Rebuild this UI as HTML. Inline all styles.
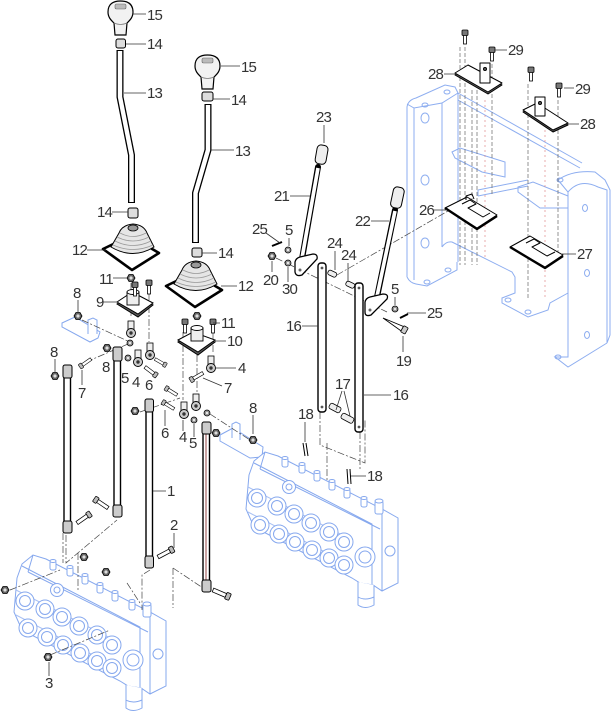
<!DOCTYPE html>
<html><head><meta charset="utf-8"><style>
html,body{margin:0;padding:0;background:#fff;}
svg{display:block}
text{font-family:"Liberation Sans",sans-serif;font-size:15px;fill:#333;letter-spacing:-0.8px}
</style></head><body>
<svg width="611" height="717" viewBox="0 0 611 717" xmlns="http://www.w3.org/2000/svg">
<defs>
 <g id="knob">
  <path d="M108,12 C108,4 113,1 120.5,1 C128,1 133,4 133,12 C133,18 129,21 127,23 L126,35 L115,35 L114,23 C112,21 108,18 108,12 Z" fill="#f2f2f2" stroke="#000" stroke-width="1.2"/>
  <path d="M114,23 Q120.5,26 127,23" fill="none" stroke="#777" stroke-width="0.8"/>
  <rect x="115" y="4" width="11" height="5" rx="1.5" fill="#bbb" stroke="#666" stroke-width="0.6"/>
 </g>
 <g id="boot">
  <polygon points="103,249 130,236 159,253 132,270" fill="#fff" stroke="#000" stroke-width="2.6" stroke-linejoin="round"/>
  <path d="M119,233 Q122,225 133,224 Q144,225 147,233 L154,247 Q133,260 111,247 Z" fill="#e6e6e6" stroke="#000" stroke-width="1"/>
  <path d="M117,237 Q133,245 149,237 M115,241 Q133,250 151,241 M113,245 Q133,254 153,245 M120,233 Q133,240 146,233" fill="none" stroke="#999" stroke-width="0.8"/>
  <ellipse cx="133" cy="228" rx="5" ry="3" fill="#999" stroke="#000" stroke-width="0.8"/>
 </g>
 <g id="nut">
  <polygon points="4,0 2,3.5 -2,3.5 -4,0 -2,-3.5 2,-3.5" fill="#666" stroke="#000" stroke-width="0.8"/>
  <circle r="1.6" fill="#ddd"/>
 </g>
 <g id="washer"><circle r="3" fill="#999" stroke="#000" stroke-width="0.8"/><circle r="1" fill="#fff"/></g>
 <g id="vbolt">
  <rect x="-1.5" y="1" width="3" height="9" fill="#fff" stroke="#000" stroke-width="0.8"/>
  <rect x="-3" y="-4" width="6" height="5.5" rx="1" fill="#777" stroke="#000" stroke-width="0.8"/>
 </g>
 <g id="dbolt">
  <rect x="0" y="-2" width="14" height="4" fill="#fff" stroke="#000" stroke-width="0.8"/>
  <rect x="14" y="-3.5" width="4.5" height="7" rx="1" fill="#bbb" stroke="#000" stroke-width="0.8"/>
 </g>
 <g id="joint">
  <rect x="-3" y="-12" width="6" height="10" fill="#eee" stroke="#000" stroke-width="0.8"/>
  <circle r="4.5" fill="#ccc" stroke="#000" stroke-width="0.9"/>
  <circle r="1.7" fill="#333"/>
 </g>
 <g id="valve" fill="#fff" stroke="#86a8ee" stroke-width="1">
  <path d="M17,578 L22,564 L33,555 L46,559 L150,612 L166,621 L166,686 L150,694 L141,688 L128,686 L120,681 L22,630 L14,612 Z"/>
  <path d="M22,566 L140,627 L140,688 M150,612 L150,694 M33,555 L28,572 M28,572 L148,632" fill="none"/>
  <path d="M16,590 L120,643 M16,615 L118,668" fill="none" stroke="#a8c0f4"/>
  <g>
   <circle cx="25" cy="601" r="9"/><circle cx="25" cy="601" r="5.5"/>
   <circle cx="45" cy="609" r="9"/><circle cx="45" cy="609" r="5.5"/>
   <circle cx="62" cy="617" r="9"/><circle cx="62" cy="617" r="5.5"/>
   <circle cx="79" cy="626" r="9"/><circle cx="79" cy="626" r="5.5"/>
   <circle cx="97" cy="635" r="9"/><circle cx="97" cy="635" r="5.5"/>
   <circle cx="112" cy="645" r="9"/><circle cx="112" cy="645" r="5.5"/>
   <circle cx="28" cy="628" r="9"/><circle cx="28" cy="628" r="5.5"/>
   <circle cx="47" cy="637" r="9"/><circle cx="47" cy="637" r="5.5"/>
   <circle cx="63" cy="645" r="9"/><circle cx="63" cy="645" r="5.5"/>
   <circle cx="80" cy="653" r="9"/><circle cx="80" cy="653" r="5.5"/>
   <circle cx="97" cy="661" r="9"/><circle cx="97" cy="661" r="5.5"/>
   <circle cx="112" cy="668" r="9"/><circle cx="112" cy="668" r="5.5"/>
   <circle cx="133" cy="660" r="10"/><circle cx="133" cy="660" r="6"/>
   <circle cx="158" cy="654" r="5"/>
   <circle cx="57" cy="590" r="6.5"/><circle cx="57" cy="590" r="3"/>
  </g>
  <g>
   <rect x="50" y="561" width="6" height="9" rx="2"/><ellipse cx="53" cy="561" rx="3" ry="1.5"/>
   <rect x="67" y="567" width="6" height="9" rx="2"/><ellipse cx="70" cy="567" rx="3" ry="1.5"/>
   <rect x="82" y="575" width="6" height="9" rx="2"/><ellipse cx="85" cy="575" rx="3" ry="1.5"/>
   <rect x="97" y="584" width="6" height="9" rx="2"/><ellipse cx="100" cy="584" rx="3" ry="1.5"/>
   <rect x="112" y="592" width="6" height="9" rx="2"/><ellipse cx="115" cy="592" rx="3" ry="1.5"/>
   <rect x="129" y="601" width="6" height="9" rx="2"/><ellipse cx="132" cy="601" rx="3" ry="1.5"/>
   <rect x="143" y="604" width="8" height="13" rx="2"/><ellipse cx="147" cy="604" rx="4" ry="2"/>
  </g>
  <path d="M126,685 L126,708 Q133,713 142,708 L142,688"/>
  <path d="M126,700 Q133,704 142,700" fill="none"/>
 </g>
</defs>

<!-- ===== FRAME (blue) ===== -->
<g fill="none" stroke="#8eaef0" stroke-width="1">
 <path d="M407,277 L407,107 Q408,100 416,98 L445,85 L455,87 L458,93 L458,262"/>
 <path d="M442,103 L442,247 M414,108 L414,280"/>
 <path d="M407,104 L414,108 L442,103 L458,93"/>
 <path d="M407,277 Q410,283 416,284 L427,286 L457,270 L457,262"/>
 <path d="M442,247 Q446,241 452,242 L512,272 L515,277 L515,293 L502,298 L502,303 L528,317 L548,310 L550,303 L568,293"/>
 <path d="M458,93 L582,163 M458,100 L580,168"/>
 <path d="M558,180 L568,192 L568,357 L555,357 L568,367 L607,343"/>
 <path d="M558,180 Q572,170 595,172 L605,180 L610,190 L610,335 L607,343"/>
 <path d="M568,192 Q580,178 598,187 L607,190 L607,343"/>
 <path d="M452,152 L460,148 L505,162 L505,177 L482,172 L455,158 Z"/>
 <path d="M478,190 L528,180 M478,196 L528,186 M478,190 L478,196"/>
 <path d="M518,187 L533,182 L568,196 L568,208 L540,208 L518,192 Z"/>
 <ellipse cx="425" cy="118" rx="4" ry="5"/><ellipse cx="425" cy="180" rx="4" ry="5"/><ellipse cx="425" cy="243" rx="4" ry="5"/>
 <ellipse cx="447" cy="92" rx="3" ry="2"/><ellipse cx="425" cy="105" rx="3" ry="2"/>
 <ellipse cx="585" cy="208" rx="2.5" ry="3.5"/><ellipse cx="587" cy="273" rx="2.5" ry="3.5"/><ellipse cx="587" cy="335" rx="2.5" ry="3.5"/>
 <ellipse cx="508" cy="300" rx="3" ry="2"/><ellipse cx="427" cy="282" rx="3" ry="2"/><ellipse cx="448" cy="270" rx="3" ry="2"/>
 <ellipse cx="528" cy="312" rx="3" ry="2"/><ellipse cx="558" cy="357" rx="3" ry="2"/><ellipse cx="560" cy="180" rx="3" ry="2"/>
</g>
<g fill="none" stroke="#666" stroke-width="0.7" stroke-dasharray="4 2">
 <path d="M460,47 L460,265 M465,47 L465,265 M472,90 L472,265 M477,90 L477,265 M492,64 L492,195 M528,84 L528,300 M558,100 L558,260"/>
</g>
<g fill="none" stroke="#e08a8a" stroke-width="0.7" stroke-dasharray="2 3">
 <path d="M545,125 L545,300 M485,100 L485,260"/>
</g>

<!-- blue brackets -->
<g fill="#fff" stroke="#86a8ee" stroke-width="1">
 <path d="M62,323 L75,317 L100,332 L98,338 L90,342 L62,327 Z"/>
 <path d="M88,334 L88,320 L93,318 L97,320 L97,334"/>
 <path d="M220,435 L233,428 L263,447 L262,457 L250,458 L220,441 Z"/>
 <path d="M232,438 L232,424 L236,422 L240,424 L240,440"/>
</g>

<!-- ===== VALVES ===== -->
<use href="#valve"/>
<use href="#valve" transform="translate(232,-103)"/>

<!-- ===== dashed assembly lines ===== -->
<g fill="none" stroke="#444" stroke-width="0.7" stroke-dasharray="7 2 2 2">
 <path d="M131,283 L131,318 M149,293 L149,342 M82,320 L132,343 M86,362 L128,344"/>
 <path d="M183,332 L183,400 M197,342 L197,393 M213,332 L213,352 M210,414 L250,440 M140,412 L180,398"/>
 <path d="M276,258 L387,312 M337,275 L467,200"/>
 <path d="M66,535 L66,563 L117,520 M63,533 L63,563 M78,553 L78,590 M10,590 L60,570"/>
 <path d="M150,570 L142,575 L142,610 M127,583 L140,603 M173,568 L173,608 M173,568 L206,590"/>
 <path d="M320,412 L320,445 L365,463 L365,420 M327,443 L327,480 M360,432 L360,470"/>
 <path d="M50,655 L110,630"/>
</g>

<!-- ===== LEFT LEVER ===== -->
<use href="#knob"/>
<rect x="116" y="39" width="9.5" height="9" rx="2" fill="#ddd" stroke="#000" stroke-width="1"/>
<path d="M120,50 L120,97 L131.5,155 L131.5,203" fill="none" stroke="#000" stroke-width="7" stroke-linejoin="round"/>
<path d="M120,51 L120,97 L131.5,155 L131.5,202" fill="none" stroke="#fff" stroke-width="4.4" stroke-linejoin="round"/>
<rect x="128" y="208" width="10" height="10" rx="2" fill="#ddd" stroke="#000" stroke-width="1"/>
<use href="#boot"/>

<!-- ===== RIGHT LEVER ===== -->
<use href="#knob" transform="translate(87,54)"/>
<rect x="202" y="92" width="11" height="9" rx="2" fill="#ddd" stroke="#000" stroke-width="1"/>
<path d="M208,104 L208,150 L195.5,193 L195.5,243" fill="none" stroke="#000" stroke-width="7" stroke-linejoin="round"/>
<path d="M208,105 L208,150 L195.5,193 L195.5,242" fill="none" stroke="#fff" stroke-width="4.4" stroke-linejoin="round"/>
<rect x="192" y="248" width="10" height="9" rx="2" fill="#ddd" stroke="#000" stroke-width="1"/>
<use href="#boot" transform="translate(63,37)"/>

<!-- ===== BRACKET 9 cluster ===== -->
<use href="#vbolt" x="149" y="284"/>
<polygon points="117,304 132,294 153,305 138,317" fill="#555" stroke="#000" stroke-width="1"/>
<polygon points="117,302 132,292 153,303 138,314" fill="#fff" stroke="#000" stroke-width="1"/>
<rect x="127" y="292" width="12" height="13" fill="#eee" stroke="#000" stroke-width="0.9"/>
<ellipse cx="133" cy="292" rx="6" ry="2.5" fill="#fff" stroke="#000" stroke-width="0.9"/>
<use href="#vbolt" x="135" y="286"/>
<use href="#nut" x="131" y="278"/>
<use href="#joint" x="131" y="333"/>
<use href="#joint" x="138" y="362"/>
<use href="#joint" x="150" y="355"/>
<use href="#washer" x="130" y="343"/>
<use href="#washer" x="128" y="358"/>
<use href="#dbolt" transform="translate(145,367) rotate(37) scale(0.8)"/>
<use href="#dbolt" transform="translate(155,359) rotate(30) scale(0.7)"/>
<use href="#dbolt" transform="translate(91,359) rotate(145) scale(0.75)"/>
<use href="#nut" x="107" y="348"/>
<use href="#nut" x="78" y="316"/>
<use href="#nut" x="55" y="376"/>

<!-- ===== BRACKET 10 cluster ===== -->
<use href="#vbolt" x="185" y="323"/>
<use href="#vbolt" x="213" y="323"/>
<polygon points="178,342 193,334 215,342 198,355" fill="#555" stroke="#000" stroke-width="1"/>
<polygon points="178,340 193,332 215,340 198,352" fill="#fff" stroke="#000" stroke-width="1"/>
<rect x="191" y="328" width="12" height="13" fill="#eee" stroke="#000" stroke-width="0.9"/>
<ellipse cx="197" cy="328" rx="6" ry="2.5" fill="#fff" stroke="#000" stroke-width="0.9"/>
<use href="#nut" x="197" y="316"/>
<use href="#joint" x="211" y="368"/>
<use href="#joint" x="196" y="406"/>
<use href="#joint" x="184" y="414"/>
<use href="#washer" x="194" y="420"/>
<use href="#washer" x="207" y="413"/>
<use href="#dbolt" transform="translate(203,373) rotate(150) scale(0.8)"/>
<use href="#dbolt" transform="translate(177,395) rotate(212) scale(0.75)"/>
<use href="#dbolt" transform="translate(174,409) rotate(212) scale(0.75)"/>
<use href="#nut" x="135" y="411"/>
<use href="#nut" x="216" y="433"/>
<use href="#nut" x="253" y="440"/>

<!-- ===== RODS ===== -->
<g fill="#fff" stroke="#000" stroke-width="1.4">
 <rect x="64" y="366" width="6.5" height="166"/>
 <rect x="114" y="349" width="6.5" height="166"/>
 <rect x="146" y="401" width="6.5" height="166"/>
 <rect x="203" y="424" width="6.5" height="166"/>
</g>
<path d="M206,432 L206,582" stroke="#7a1a1a" stroke-width="0.8"/>
<g fill="#ccc" stroke="#000" stroke-width="1">
 <rect x="63" y="365" width="9" height="13" rx="2"/><rect x="63" y="521" width="9" height="12" rx="2"/>
 <rect x="113" y="347" width="9" height="14" rx="2"/><rect x="113" y="505" width="9" height="12" rx="2"/>
 <rect x="145" y="399" width="8.5" height="13" rx="2"/><rect x="145" y="556" width="8.5" height="12" rx="2"/>
 <rect x="202" y="422" width="9" height="12" rx="2"/><rect x="202" y="580" width="9" height="12" rx="2"/>
</g>
<use href="#dbolt" transform="translate(108,508) rotate(214) scale(0.9)"/>
<use href="#dbolt" transform="translate(77,523) rotate(-35) scale(0.9)"/>
<use href="#dbolt" transform="translate(158,557) rotate(-28) scale(0.95)"/>
<use href="#dbolt" transform="translate(213,590) rotate(23)"/>
<use href="#nut" x="84" y="557"/>
<use href="#nut" x="106" y="572"/>
<use href="#nut" x="5" y="590"/>
<use href="#nut" x="48" y="657"/>

<!-- ===== LEVERS 21 / 22 ===== -->
<path d="M318,167 L302,259" stroke="#000" stroke-width="6" stroke-linecap="round"/>
<path d="M318,168 L302,258" stroke="#fff" stroke-width="3.6"/>
<rect x="316" y="145" width="11" height="19" rx="4" fill="#eee" stroke="#000" stroke-width="1" transform="rotate(10 321 155)"/>
<path d="M295,262 Q296,258 300,257 L313,254 Q318,254 317,259 L302,275 Q296,277 295,272 Z" fill="#fff" stroke="#000" stroke-width="1.3"/>
<circle cx="300" cy="270" r="1.5" fill="#666"/>
<path d="M395,210 L376,302" stroke="#000" stroke-width="6" stroke-linecap="round"/>
<path d="M395,211 L376,301" stroke="#fff" stroke-width="3.6"/>
<rect x="392" y="187" width="11" height="21" rx="4" fill="#eee" stroke="#000" stroke-width="1" transform="rotate(12 397 197)"/>
<path d="M365,302 Q366,298 370,297 L383,294 Q389,294 387,299 L371,315 Q365,317 365,312 Z" fill="#fff" stroke="#000" stroke-width="1.3"/>
<circle cx="370" cy="310" r="1.5" fill="#666"/>

<!-- rods 16 -->
<g fill="#fff" stroke="#000" stroke-width="1.4">
 <rect x="318" y="263" width="8" height="149" rx="3"/>
 <rect x="355" y="283" width="8" height="149" rx="3"/>
</g>
<circle cx="322" cy="268" r="1.4" fill="#555"/><circle cx="322" cy="407" r="1.4" fill="#555"/>
<circle cx="359" cy="288" r="1.4" fill="#555"/><circle cx="359" cy="427" r="1.4" fill="#555"/>

<!-- small parts around levers -->
<use href="#nut" x="272" y="256"/>
<use href="#washer" x="288" y="250"/>
<use href="#washer" x="288" y="263"/>
<path d="M272,246 L282,242" stroke="#000" stroke-width="2"/>
<rect x="328" y="271" width="9" height="5" rx="2" fill="#eee" stroke="#000" stroke-width="0.8" transform="rotate(25 332 273)"/>
<rect x="346" y="282" width="9" height="5" rx="2" fill="#eee" stroke="#000" stroke-width="0.8" transform="rotate(25 350 284)"/>
<use href="#washer" x="395" y="309"/>
<path d="M400,318 L408,314" stroke="#000" stroke-width="2"/>
<g transform="translate(383,318) rotate(29)">
 <path d="M0,0 L22,-2.5 L22,2.5 Z" fill="#fff" stroke="#000" stroke-width="0.8"/>
 <rect x="22" y="-3.5" width="5" height="7" rx="1" fill="#ccc" stroke="#000" stroke-width="0.8"/>
</g>
<rect x="329" y="405" width="12" height="6" rx="2" fill="#eee" stroke="#000" stroke-width="0.8" transform="rotate(28 335 408)"/>
<rect x="341" y="415" width="13" height="6" rx="2" fill="#eee" stroke="#000" stroke-width="0.8" transform="rotate(28 347 418)"/>
<path d="M303,443 L305,456 M306,443 L308,456" stroke="#000" stroke-width="1"/>
<path d="M347,469 L348,484 M350,469 L351,484" stroke="#000" stroke-width="1"/>

<!-- ===== FRAME PLATES 26/27/28, bolts 29 ===== -->
<g stroke="#000" stroke-width="1" fill="#fff" stroke-linejoin="round">
 <polygon points="455,75 468,67 502,85 488,94" fill="#555"/>
 <polygon points="455,73 468,65 502,83 488,92"/>
 <rect x="480" y="63" width="10" height="20"/>
 <circle cx="485" cy="69" r="1.5" fill="#666"/>
 <polygon points="523,112 537,105 568,125 553,132" fill="#555"/>
 <polygon points="523,110 537,103 568,123 553,130"/>
 <rect x="535" y="97" width="10" height="19"/>
 <circle cx="540" cy="103" r="1.5" fill="#666"/>
 <path d="M445,208 L467,197 L497,215 L477,228 Z"/>
 <path d="M445,208 L477,229 L497,216" fill="none" stroke-width="2.4"/>
 <path d="M462,204 L470,200 L476,204 L468,208 L483,217 L490,213" fill="none"/>
 <path d="M466,200 L466,196 L472,194 L474,199" fill="none"/>
 <path d="M510,247 L530,236 L563,255 L545,267 Z"/>
 <path d="M510,247 L545,268 L563,256" fill="none" stroke-width="2.4"/>
 <path d="M526,243 L534,239 L540,243 L532,247 L547,256 L555,252" fill="none"/>
</g>
<use href="#vbolt" x="465" y="34"/>
<use href="#vbolt" x="492" y="51"/>
<use href="#vbolt" x="531" y="71"/>
<use href="#vbolt" x="559" y="87"/>

<!-- ===== LEADER LINES ===== -->
<g stroke="#333" stroke-width="0.8" fill="none">
 <path d="M132,14 L146,14 M126,44 L146,44 M124,93 L146,93 M112,212 L128,212 M87,250 L106,250"/>
 <path d="M221,66 L240,66 M213,99 L230,99 M211,150 L234,150 M202,253 L217,253 M221,286 L237,286"/>
 <path d="M113,278 L127,278 M78,300 L78,312 M103,302 L118,302 M213,323 L220,323 M215,341 L226,341"/>
 <path d="M216,368 L236,368 M203,378 L222,386 M253,415 L253,434 M55,359 L55,372 M82,370 L82,385"/>
 <path d="M165,410 L165,426 M183,420 L183,431 M194,424 L194,437 M153,491 L166,491 M174,533 L174,548 M49,662 L49,676"/>
 <path d="M290,196 L310,196 M324,125 L324,143 M266,233 L280,243 M289,238 L289,246 M272,261 L272,272 M288,267 L288,282"/>
 <path d="M335,251 L335,270 M348,263 L348,282 M371,221 L389,221 M395,297 L395,305 M407,313 L426,313 M403,336 L403,352"/>
 <path d="M302,326 L318,326 M364,395 L391,395 M342,391 L336,410 M344,391 L350,416 M305,422 L305,442 M351,476 L366,476"/>
 <path d="M434,210 L447,210 M562,254 L576,254 M444,74 L456,74 M567,124 L579,124 M495,50 L507,50 M564,88 L574,88"/>
</g>

<!-- ===== LABELS ===== -->
<g>
 <text x="147" y="20">15</text>
 <text x="147" y="49">14</text>
 <text x="147" y="98">13</text>
 <text x="97" y="217">14</text>
 <text x="72" y="255">12</text>
 <text x="241" y="72">15</text>
 <text x="231" y="105">14</text>
 <text x="235" y="156">13</text>
 <text x="218" y="258">14</text>
 <text x="238" y="291">12</text>
 <text x="99" y="284">11</text>
 <text x="73" y="298">8</text>
 <text x="96" y="307">9</text>
 <text x="221" y="328">11</text>
 <text x="227" y="346">10</text>
 <text x="238" y="373">4</text>
 <text x="224" y="393">7</text>
 <text x="249" y="413">8</text>
 <text x="50" y="357">8</text>
 <text x="102" y="372">8</text>
 <text x="78" y="398">7</text>
 <text x="121" y="383">5</text>
 <text x="132" y="387">4</text>
 <text x="145" y="390">6</text>
 <text x="161" y="438">6</text>
 <text x="179" y="442">4</text>
 <text x="189" y="448">5</text>
 <text x="167" y="496">1</text>
 <text x="170" y="530">2</text>
 <text x="45" y="688">3</text>
 <text x="274" y="201">21</text>
 <text x="316" y="122">23</text>
 <text x="252" y="234">25</text>
 <text x="285" y="235">5</text>
 <text x="263" y="285">20</text>
 <text x="282" y="294">30</text>
 <text x="327" y="248">24</text>
 <text x="341" y="260">24</text>
 <text x="355" y="226">22</text>
 <text x="391" y="294">5</text>
 <text x="427" y="318">25</text>
 <text x="396" y="366">19</text>
 <text x="286" y="331">16</text>
 <text x="393" y="400">16</text>
 <text x="335" y="389">17</text>
 <text x="298" y="419">18</text>
 <text x="367" y="481">18</text>
 <text x="419" y="215">26</text>
 <text x="577" y="259">27</text>
 <text x="428" y="79">28</text>
 <text x="580" y="129">28</text>
 <text x="508" y="55">29</text>
 <text x="575" y="94">29</text>
</g>
</svg>
</body></html>
